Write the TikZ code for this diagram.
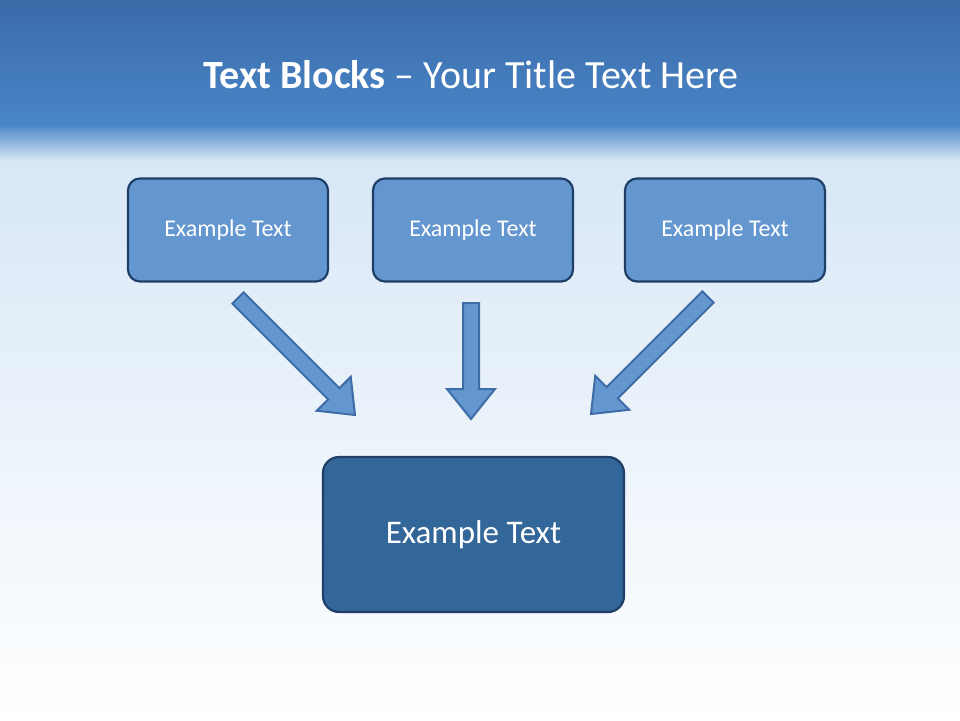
\documentclass[tikz,border=0pt]{standalone}
\usetikzlibrary{calc}
\usepackage{fontspec}
\setmainfont{Carlito}
\definecolor{boxfill}{HTML}{6497D0}
\definecolor{boxline}{HTML}{1F3F66}
\definecolor{bigfill}{HTML}{336699}
\definecolor{arrfill}{HTML}{6497D0}
\definecolor{arrline}{HTML}{3D6CA6}
\definecolor{topblue}{HTML}{3A6AA8}
\definecolor{midblue}{HTML}{4A86C8}
\definecolor{paleblue}{HTML}{D6E6F5}
\tikzset{
 smallbox/.style={draw=boxline,line width=2.2pt,fill=boxfill,rounded corners=12pt,minimum width=200pt,minimum height=103pt,text=white,font=\fontsize{24}{28}\selectfont},
 bigbox/.style={draw=boxline,line width=2.2pt,fill=bigfill,rounded corners=16pt,minimum width=301pt,minimum height=155pt,text=white,font=\fontsize{33}{38}\selectfont},
 blockarrow/.style={draw=arrline,fill=arrfill,line width=2pt,line join=miter}
}
\newcommand{\blockarr}[3]{% start, end, name
 \path let \p1=(#1), \p2=(#2), \n1={atan2(\y2-\y1,\x2-\x1)}, \n2={veclen(\x2-\x1,\y2-\y1)} in
  [shift={(\p1)},rotate=\n1] [blockarrow]
  (0,-8) -- (\n2-30,-8) -- (\n2-30,-24) -- (\n2,0) -- (\n2-30,24) -- (\n2-30,8) -- (0,8) -- cycle;
}
\begin{document}
\begin{tikzpicture}[x=1pt,y=-1pt]
\useasboundingbox (0,0) rectangle (960,720);
\shade[top color=paleblue,bottom color=white] (0,130) rectangle (960,720);
\shade[top color=topblue,bottom color=midblue] (0,0) rectangle (960,125);
\shade[top color=midblue,bottom color=paleblue] (0,124.5) rectangle (960,160);
\node[text=white,font=\fontsize{40}{46}\selectfont] (title) at (471,75) {\textbf{Text Blocks} -- Your Title Text Here};
\node[smallbox] (b1) at (228,230) {Example Text};
\node[smallbox] (b2) at (473,230) {Example Text};
\node[smallbox] (b3) at (725,230) {Example Text};
\node[bigbox] (big) at (473.5,534.5) {Example Text};
\coordinate (a1s) at (238,298); \coordinate (a1e) at (355,415);
\coordinate (a2s) at (471,303); \coordinate (a2e) at (471,419);
\coordinate (a3s) at (708,297); \coordinate (a3e) at (591,414);
\blockarr{a1s}{a1e}{x}
\blockarr{a2s}{a2e}{y}
\blockarr{a3s}{a3e}{z}
\end{tikzpicture}
\end{document}
